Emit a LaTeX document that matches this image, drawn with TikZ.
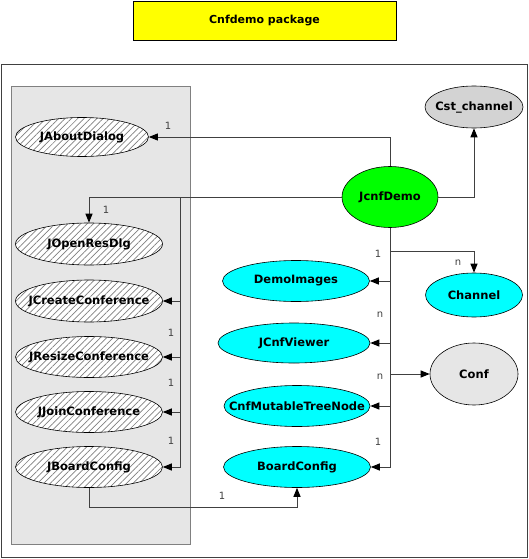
\documentclass[tikz,border=0pt]{standalone}
\usepackage{fontspec}
\setmainfont{DejaVu Sans}
\usepackage{tikz}
\usetikzlibrary{shapes.geometric, arrows.meta, patterns.meta}

\definecolor{linegray}{HTML}{404040}
\definecolor{panelgray}{HTML}{E6E6E6}
\definecolor{cstgray}{HTML}{D3D3D3}
\definecolor{cyanfill}{HTML}{00FFFF}
\definecolor{greenfill}{HTML}{00FF00}
\definecolor{yellowfill}{HTML}{FFFF00}

\begin{document}
\begin{tikzpicture}[x=1pt, y=-1pt,
  line/.style={draw=linegray, line width=1pt},
  arr/.style={line, -{Triangle[length=9pt,width=7pt,color=black]}},
  cls/.style={ellipse, draw=black, line width=0.6pt, inner xsep=-20pt, inner ysep=0pt, font=\fontsize{11.5}{13}\selectfont\bfseries},
  hatched/.style={cls, preaction={fill=white}, pattern={Lines[angle=45,distance=4.5pt,line width=0.7pt]}, pattern color=gray},
  cyanbox/.style={cls, fill=cyanfill},
  mult/.style={font=\fontsize{10}{11}\selectfont, text=linegray, inner sep=1pt}]
  \useasboundingbox (0,0) rectangle (529,559);
  \node[draw=black, line width=0.8pt, fill=yellowfill, minimum width=263pt, minimum height=39pt, font=\fontsize{11}{13}\selectfont\bfseries] (title) at (264.5,20.5) {Cnfdemo package};
  \draw[line] (1,65) rectangle (527,557);
  \draw[draw=gray, line width=0.8pt, fill=panelgray] (11,86) rectangle (190,544);
  \node[hatched, minimum width=133pt, minimum height=39pt] (about)   at (82,137) {JAboutDialog};
  \node[hatched, minimum width=147pt, minimum height=42pt] (openres) at (89,244) {JOpenResDlg};
  \node[hatched, minimum width=147pt, minimum height=42pt] (create)  at (89,301) {JCreateConference};
  \node[hatched, minimum width=147pt, minimum height=41pt] (resize)  at (89,357) {JResizeConference};
  \node[hatched, minimum width=147pt, minimum height=41pt] (join)    at (89,412) {JJoinConference};
  \node[hatched, minimum width=147pt, minimum height=41pt] (jboard)  at (89,467) {JBoardConfig};
  \node[cls, fill=greenfill, minimum width=96pt, minimum height=61pt] (demo) at (390,197) {JcnfDemo};
  \node[cls, fill=cstgray, minimum width=98pt, minimum height=42pt] (cst) at (474,107) {Cst\_channel};
  \node[cyanbox, minimum width=97pt, minimum height=44pt] (channel) at (474,295) {Channel};
  \node[cyanbox, minimum width=147pt, minimum height=41pt] (images) at (296,281) {DemoImages};
  \node[cyanbox, minimum width=152pt, minimum height=40pt] (viewer) at (294,343) {JCnfViewer};
  \node[cyanbox, minimum width=146pt, minimum height=41pt] (tree)   at (297,406) {CnfMutableTreeNode};
  \node[cyanbox, minimum width=147pt, minimum height=41pt] (board)  at (297,467) {BoardConfig};
  \node[cls, fill=panelgray, minimum width=88pt, minimum height=62pt] (conf) at (474,374) {Conf};
  \coordinate (busL) at (180,197);
  \coordinate (busR) at (390,251);
  \coordinate (jbend) at (89,507);
  \draw[arr] (demo.north) |- (about.east);
  \draw[arr] (demo.west) -| (openres.north);
  \draw[arr] (demo.west) -- (busL) |- (create.east);
  \draw[arr] (demo.west) -- (busL) |- (resize.east);
  \draw[arr] (demo.west) -- (busL) |- (join.east);
  \draw[arr] (demo.west) -- (busL) |- (jboard.east);
  \draw[arr] (demo.east) -| (cst.south);
  \draw[arr] (demo.south) -- (busR) -| (channel.north);
  \draw[arr] (demo.south) |- (images.east);
  \draw[arr] (demo.south) |- (viewer.east);
  \draw[arr] (demo.south) |- (conf.west);
  \draw[arr] (demo.south) |- (tree.east);
  \draw[arr] (demo.south) |- (board.east);
  \draw[arr] (jboard.south) -- (jbend) -| (board.south);
  \node[mult] (m1)  at (168,126) {1};
  \node[mult] (m2)  at (106,210) {1};
  \node[mult] (m3)  at (171,333) {1};
  \node[mult] (m4)  at (171,383) {1};
  \node[mult] (m5)  at (171,441) {1};
  \node[mult] (m6)  at (222,496) {1};
  \node[mult] (m7)  at (378,254) {1};
  \node[mult] (m8)  at (458,263) {n};
  \node[mult] (m9)  at (380,315) {n};
  \node[mult] (m10) at (380,377) {n};
  \node[mult] (m11) at (378,442) {1};
\end{tikzpicture}
\end{document}
